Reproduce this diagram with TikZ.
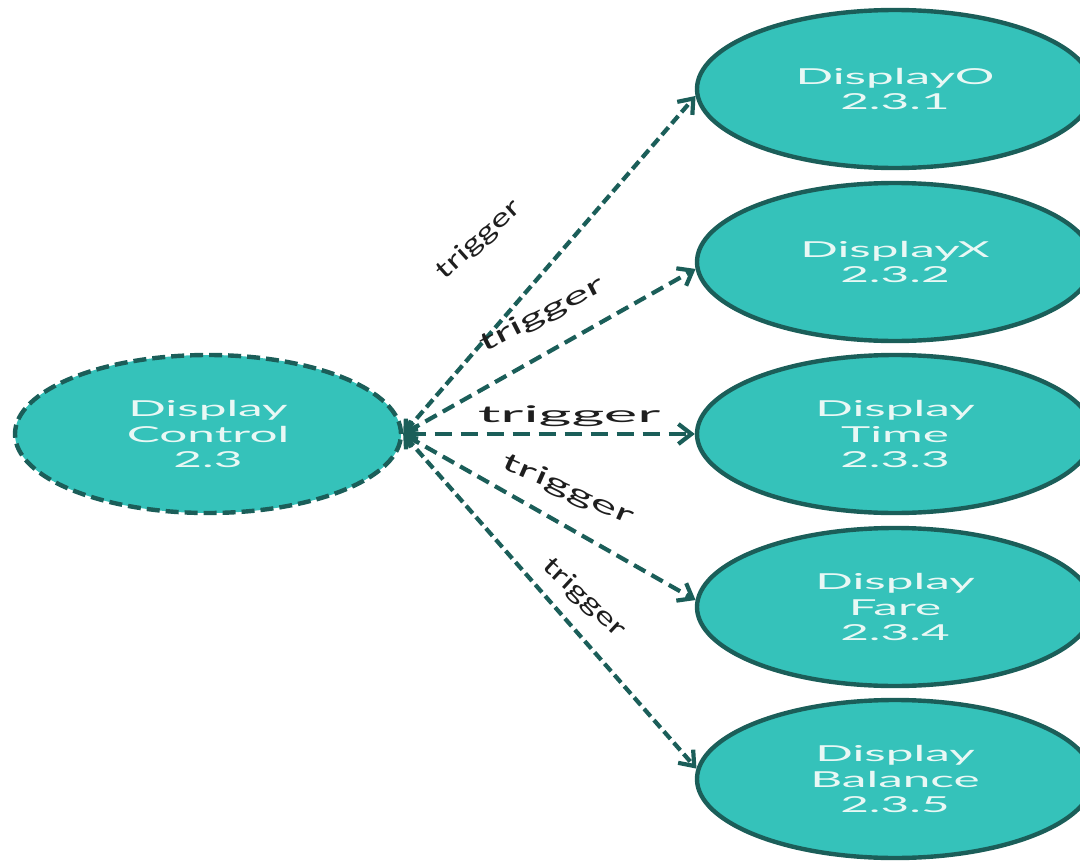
\documentclass[tikz,border=0pt]{standalone}
\usepackage{fontspec}
\setmainfont{Lato}
\usetikzlibrary{arrows.meta,shapes.geometric}
\definecolor{fillc}{HTML}{35C2BA}
\definecolor{edgec}{HTML}{1B5E59}
\definecolor{txtc}{HTML}{E9F8F5}
\definecolor{labc}{HTML}{1E1E1E}
\newcommand\nt[1]{\scalebox{2.25}[1]{#1}}
\begin{document}
\begin{tikzpicture}[x=1pt,y=-1pt,
  proc/.style={ellipse, draw=edgec, line width=4.4pt, fill=fillc, inner sep=0pt,
    text=txtc, font=\fontsize{22}{25.5}\selectfont, align=center},
  srcnode/.style={proc, dash pattern=on 13pt off 6pt, minimum width=386pt, minimum height=158pt},
  tgtnode/.style={proc, minimum width=396pt, minimum height=158pt},
  trig/.style={draw=edgec, line width=4.2pt,
    {Straight Barb[length=10pt,width=16pt]}-{Straight Barb[length=13pt,width=20pt]}},
  lab/.style={text=labc, font=\fontsize{25}{28}\selectfont, inner sep=0pt}]
\useasboundingbox (0,0) rectangle (1080,862);
\clip (0,0) rectangle (1080,862);
\node[srcnode] (src) at (208,434) {\nt{Display}\\\nt{Control}\\\nt{2.3}};
\node[tgtnode] (t1) at (895,89) {\nt{DisplayO}\\\nt{2.3.1}};
\node[tgtnode] (t2) at (895,262) {\nt{DisplayX}\\\nt{2.3.2}};
\node[tgtnode] (t3) at (895,434) {\nt{Display}\\\nt{Time}\\\nt{2.3.3}};
\node[tgtnode] (t4) at (895,607) {\nt{Display}\\\nt{Fare}\\\nt{2.3.4}};
\node[tgtnode] (t5) at (895,779) {\nt{Display}\\\nt{Balance}\\\nt{2.3.5}};
\draw[trig, dash pattern=on 10pt off 5pt] (src.east) -- (t1.182);
\draw[trig, dash pattern=on 13pt off 7pt] (src.east) -- (t2.182);
\draw[trig, dash pattern=on 17pt off 9pt] (src.east) -- (t3.west);
\draw[trig, dash pattern=on 13pt off 7pt] (src.east) -- (t4.178);
\draw[trig, dash pattern=on 10pt off 5pt] (src.east) -- (t5.177);
\node[lab, rotate=42] (l1) at (479,240) {\scalebox{1.45}[1]{trigger}};
\node[lab, rotate=27] (l2) at (542,315) {\scalebox{1.9}[1]{trigger}};
\node[lab, font=\fontsize{23}{26}\selectfont] (l3) at (569,416) {\scalebox{2.75}[1]{trigger}};
\node[lab, rotate=-24] (l4) at (568,490) {\scalebox{1.95}[1]{trigger}};
\node[lab, rotate=-43] (l5) at (584,598) {\scalebox{1.45}[1]{trigger}};
\end{tikzpicture}
\end{document}
